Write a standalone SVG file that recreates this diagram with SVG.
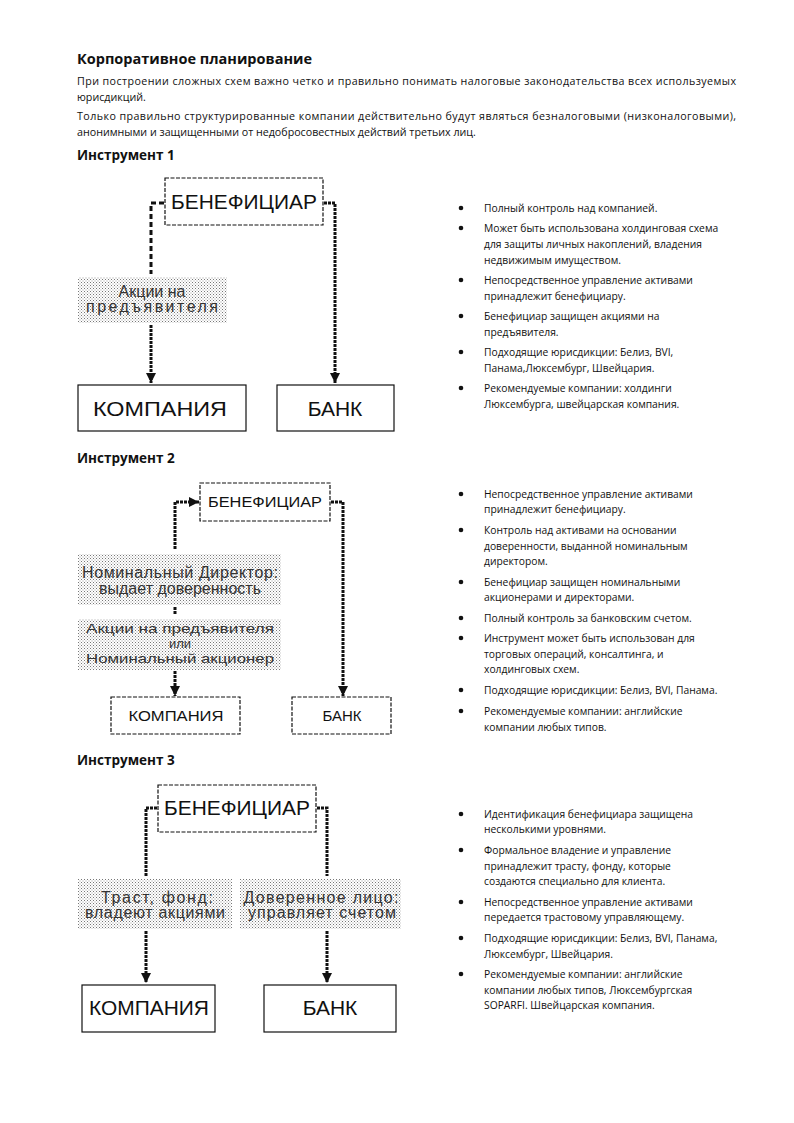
<svg xmlns="http://www.w3.org/2000/svg" width="794" height="1123" viewBox="0 0 794 1123">
<defs>
<pattern id="dots" patternUnits="userSpaceOnUse" width="3" height="3">
<rect width="3" height="3" fill="#fff"/>
<rect width="1" height="1" fill="#777"/>
<rect x="1.5" y="1.5" width="1" height="1" fill="#999"/>
</pattern>
<marker id="arr" markerUnits="userSpaceOnUse" markerWidth="11" markerHeight="11" refX="10" refY="5.5" orient="auto">
<path d="M0,0.5 L10,5.5 L0,10.5 z" fill="#111"/>
</marker>
<style>
.t{font-family:"Open Sans","Noto Sans",sans-serif;fill:#111}
.title{font-size:14.5px;font-weight:bold}
.h{font-size:13.5px;font-weight:bold}
.p{font-size:10.7px}
.b{font-size:10.3px}
.box{fill:#fff;stroke:#111;stroke-width:1.2}
.dash{stroke-dasharray:4 1.5}
.shade{fill:url(#dots);stroke:none}
.big{font-family:"Liberation Sans",Arial,sans-serif;font-size:21px;fill:#111;text-anchor:middle}
.mid{font-family:"Liberation Sans",Arial,sans-serif;font-size:15px;fill:#111;text-anchor:middle}
.in{font-family:"Liberation Sans",Arial,sans-serif;font-size:16px;fill:#333;text-anchor:middle}
.sm{font-family:"Liberation Sans",Arial,sans-serif;font-size:13px;fill:#333;text-anchor:middle}
.c{fill:none;stroke:#111;stroke-width:3;stroke-dasharray:3 1}
.c2{fill:none;stroke:#111;stroke-width:3;stroke-dasharray:5 3}
.dot{fill:#111}
</style>
</defs>
<rect width="794" height="1123" fill="#fff"/>

<g id="header">
<text class="t title" x="77" y="64">Корпоративное планирование</text>
<text class="t p" x="77" y="85" textLength="659" lengthAdjust="spacing">При построении сложных схем важно четко и правильно понимать налоговые законодательства всех используемых</text>
<text class="t p" x="77" y="101">юрисдикций.</text>
<text class="t p" x="77" y="120" textLength="659" lengthAdjust="spacing">Только правильно структурированные компании действительно будут являться безналоговыми (низконалоговыми),</text>
<text class="t p" x="77" y="136">анонимными и защищенными от недобросовестных действий третьих лиц.</text>
<text class="t h" x="77" y="160">Инструмент 1</text>
<text class="t h" x="77" y="463">Инструмент 2</text>
<text class="t h" x="77" y="765">Инструмент 3</text>
</g>

<!-- Instrument 1 -->
<g id="i1-benef"><rect class="box dash" x="165" y="178" width="158" height="47"/><text class="big" x="244" y="209" textLength="146" lengthAdjust="spacingAndGlyphs">БЕНЕФИЦИАР</text></g>
<g id="i1-bearer"><rect class="shade" x="78" y="277" width="149" height="46"/><text class="in" x="152" y="297">Акции на</text><text class="in" x="152" y="312" textLength="132" lengthAdjust="spacing">предъявителя</text></g>
<g id="i1-company"><rect class="box" x="78" y="385" width="168" height="46"/><text class="big" x="160" y="416" textLength="134" lengthAdjust="spacingAndGlyphs">КОМПАНИЯ</text></g>
<g id="i1-bank"><rect class="box" x="277" y="385" width="117" height="46"/><text class="big" x="335" y="416">БАНК</text></g>

<!-- Instrument 2 -->
<g id="i2-benef"><rect class="box dash" x="200" y="483" width="130" height="38"/><text class="mid" x="265" y="507" textLength="114" lengthAdjust="spacingAndGlyphs">БЕНЕФИЦИАР</text></g>
<g id="i2-director"><rect class="shade" x="78" y="554" width="203" height="51"/><text class="in" x="180" y="578" textLength="196" lengthAdjust="spacing">Номинальный Директор:</text><text class="in" x="180" y="594" textLength="162" lengthAdjust="spacing">выдает доверенность</text></g>
<g id="i2-shares"><rect class="shade" x="78" y="619" width="203" height="51"/><text class="sm" x="180" y="633" textLength="188" lengthAdjust="spacingAndGlyphs">Акции на предъявителя</text><text class="sm" x="180" y="648">или</text><text class="sm" x="180" y="663" textLength="188" lengthAdjust="spacingAndGlyphs">Номинальный акционер</text></g>
<g id="i2-company"><rect class="box dash" x="111" y="697" width="129" height="37"/><text class="mid" x="176" y="721" textLength="95" lengthAdjust="spacingAndGlyphs">КОМПАНИЯ</text></g>
<g id="i2-bank"><rect class="box dash" x="292" y="697" width="99" height="37"/><text class="mid" x="342" y="721">БАНК</text></g>

<!-- Instrument 3 -->
<g id="i3-benef"><rect class="box dash" x="158" y="785" width="158" height="47"/><text class="big" x="237" y="815" textLength="146" lengthAdjust="spacingAndGlyphs">БЕНЕФИЦИАР</text></g>
<g id="i3-trust"><rect class="shade" x="78" y="879" width="154" height="50"/><text class="in" x="157" y="903" textLength="112" lengthAdjust="spacing">Траст,  фонд:</text><text class="in" x="155" y="918" textLength="140" lengthAdjust="spacing">владеют акциями</text></g>
<g id="i3-trustee"><rect class="shade" x="240" y="879" width="161" height="50"/><text class="in" x="321" y="903" textLength="155" lengthAdjust="spacing">Доверенное лицо:</text><text class="in" x="322" y="918" textLength="148" lengthAdjust="spacing">управляет счетом</text></g>
<g id="i3-company"><rect class="box" x="82" y="985" width="133" height="47"/><text class="big" x="149" y="1015" textLength="120" lengthAdjust="spacingAndGlyphs">КОМПАНИЯ</text></g>
<g id="i3-bank"><rect class="box" x="264" y="985" width="132" height="47"/><text class="big" x="330" y="1015">БАНК</text></g>

<g id="connectors">
<path class="c2" d="M164,203 H151 V274"/>
<path class="c" d="M151,325 V383" marker-end="url(#arr)"/>
<path class="c" d="M324,203 H335 V383" marker-end="url(#arr)"/>

<path class="c" d="M175,549 V502 H199" marker-end="url(#arr)"/>
<path class="c" d="M175,607 V615"/>
<path class="c" d="M175,671 V696" marker-end="url(#arr)"/>
<path class="c" d="M331,502 H343 V696" marker-end="url(#arr)"/>

<path class="c" d="M157,808 H146 V876"/>
<path class="c" d="M146,931 V983" marker-end="url(#arr)"/>
<path class="c" d="M317,808 H327 V876"/>
<path class="c" d="M327,931 V983" marker-end="url(#arr)"/>
</g>

<g id="bullets1">
<circle class="dot" cx="461" cy="208" r="2.3"/><text class="t b" x="484" y="212">Полный контроль над компанией.</text>
<circle class="dot" cx="461" cy="228" r="2.3"/><text class="t b" x="484" y="232">Может быть использована холдинговая схема</text><text class="t b" x="484" y="248">для защиты личных накоплений, владения</text><text class="t b" x="484" y="264">недвижимым имуществом.</text>
<circle class="dot" cx="461" cy="280" r="2.3"/><text class="t b" x="484" y="284">Непосредственное управление активами</text><text class="t b" x="484" y="300">принадлежит бенефициару.</text>
<circle class="dot" cx="461" cy="316" r="2.3"/><text class="t b" x="484" y="320">Бенефициар защищен акциями на</text><text class="t b" x="484" y="336">предъявителя.</text>
<circle class="dot" cx="461" cy="352" r="2.3"/><text class="t b" x="484" y="356">Подходящие юрисдикции: Белиз, BVI,</text><text class="t b" x="484" y="372">Панама,Люксембург, Швейцария.</text>
<circle class="dot" cx="461" cy="388" r="2.3"/><text class="t b" x="484" y="392">Рекомендуемые компании: холдинги</text><text class="t b" x="484" y="408">Люксембурга, швейцарская компания.</text>
</g>

<g id="bullets2">
<circle class="dot" cx="461" cy="494" r="2.3"/><text class="t b" x="484" y="498">Непосредственное управление активами</text><text class="t b" x="484" y="513">принадлежит бенефициару.</text>
<circle class="dot" cx="461" cy="530" r="2.3"/><text class="t b" x="484" y="534">Контроль над активами на основании</text><text class="t b" x="484" y="550">доверенности, выданной номинальным</text><text class="t b" x="484" y="565">директором.</text>
<circle class="dot" cx="461" cy="582" r="2.3"/><text class="t b" x="484" y="586">Бенефициар защищен номинальными</text><text class="t b" x="484" y="601">акционерами и директорами.</text>
<circle class="dot" cx="461" cy="618" r="2.3"/><text class="t b" x="484" y="622">Полный контроль за банковским счетом.</text>
<circle class="dot" cx="461" cy="638" r="2.3"/><text class="t b" x="484" y="642">Инструмент может быть использован для</text><text class="t b" x="484" y="658">торговых операций, консалтинга, и</text><text class="t b" x="484" y="673">холдинговых схем.</text>
<circle class="dot" cx="461" cy="690" r="2.3"/><text class="t b" x="484" y="694">Подходящие юрисдикции: Белиз, BVI, Панама.</text>
<circle class="dot" cx="461" cy="711" r="2.3"/><text class="t b" x="484" y="715">Рекомендуемые компании: английские</text><text class="t b" x="484" y="731">компании любых типов.</text>
</g>

<g id="bullets3">
<circle class="dot" cx="461" cy="814" r="2.3"/><text class="t b" x="484" y="818">Идентификация бенефициара защищена</text><text class="t b" x="484" y="833">несколькими уровнями.</text>
<circle class="dot" cx="461" cy="850" r="2.3"/><text class="t b" x="484" y="854">Формальное владение и управление</text><text class="t b" x="484" y="870">принадлежит трасту, фонду, которые</text><text class="t b" x="484" y="885">создаются специально для клиента.</text>
<circle class="dot" cx="461" cy="902" r="2.3"/><text class="t b" x="484" y="906">Непосредственное управление активами</text><text class="t b" x="484" y="921">передается трастовому управляющему.</text>
<circle class="dot" cx="461" cy="938" r="2.3"/><text class="t b" x="484" y="942">Подходящие юрисдикции: Белиз, BVI, Панама,</text><text class="t b" x="484" y="958">Люксембург, Швейцария.</text>
<circle class="dot" cx="461" cy="974" r="2.3"/><text class="t b" x="484" y="978">Рекомендуемые компании: английские</text><text class="t b" x="484" y="994">компании любых типов, Люксембургская</text><text class="t b" x="484" y="1009">SOPARFI. Швейцарская компания.</text>
</g>
</svg>
